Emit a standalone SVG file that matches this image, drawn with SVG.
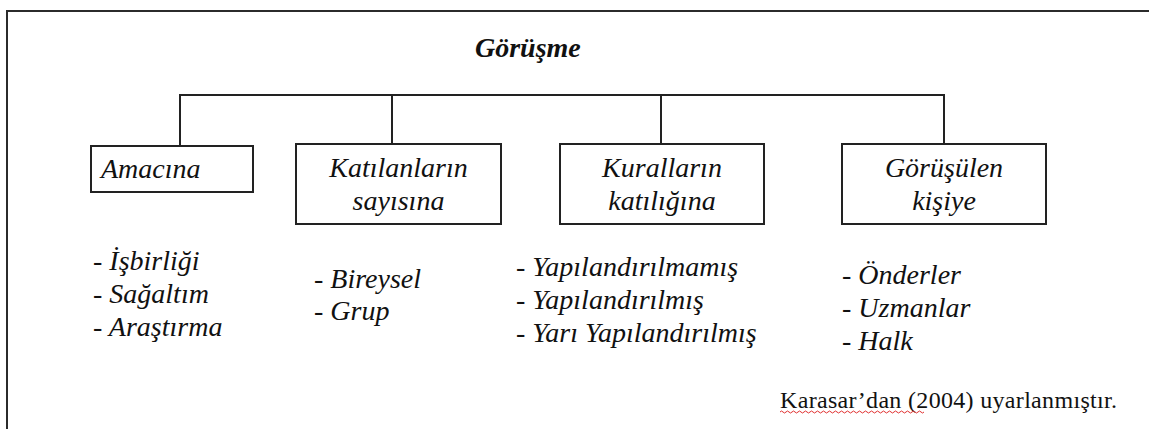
<svg xmlns="http://www.w3.org/2000/svg" width="1149" height="429" viewBox="0 0 1149 429">
<style>
.frame{fill:none;stroke:#2b2b2b;stroke-width:2}
.box{fill:#fff;stroke:#222;stroke-width:2}
.conn{fill:none;stroke:#222;stroke-width:2}
.t{font-family:'Liberation Serif','Times New Roman',serif;font-style:italic;font-size:28px;fill:#111}
.c{text-anchor:middle}
.title{font-weight:bold}
.src{font-family:'Liberation Serif','Times New Roman',serif;font-size:24px;fill:#111}
</style>
<rect width="1149" height="429" fill="#fff"/>
<rect class="frame" x="7" y="11" width="1150" height="430"/>
<g id="title"><text class="t title" x="475" y="57">Görüşme</text></g>
<g id="connectors">
<path class="conn" d="M180,146 V95 H944 V144 M392,95 V144 M661,95 V144"/>
</g>
<g id="amacina">
<rect class="box" x="91" y="146" width="162" height="46"/>
<text class="t" x="101" y="178">Amacına</text>
</g>
<g id="katilanlarin">
<rect class="box" x="296" y="144" width="205" height="80"/>
<text class="t c" x="398.5" y="177">Katılanların</text>
<text class="t c" x="398.5" y="210">sayısına</text>
</g>
<g id="kurallarin">
<rect class="box" x="560" y="144" width="204" height="80"/>
<text class="t c" x="662" y="177">Kuralların</text>
<text class="t c" x="662" y="210">katılığına</text>
</g>
<g id="gorusulen">
<rect class="box" x="842" y="144" width="204" height="80"/>
<text class="t c" x="944" y="177">Görüşülen</text>
<text class="t c" x="944" y="210">kişiye</text>
</g>
<g id="list-amacina">
<text class="t" x="93" y="270">- İşbirliği</text>
<text class="t" x="93" y="303">- Sağaltım</text>
<text class="t" x="93" y="336">- Araştırma</text>
</g>
<g id="list-katilanlarin">
<text class="t" x="314" y="288">- Bireysel</text>
<text class="t" x="314" y="320">- Grup</text>
</g>
<g id="list-kurallarin">
<text class="t" x="516" y="276">- Yapılandırılmamış</text>
<text class="t" x="516" y="309">- Yapılandırılmış</text>
<text class="t" x="516" y="342">- Yarı Yapılandırılmış</text>
</g>
<g id="list-gorusulen">
<text class="t" x="842" y="284">- Önderler</text>
<text class="t" x="842" y="317">- Uzmanlar</text>
<text class="t" x="842" y="350">- Halk</text>
</g>
<g id="source">
<text class="src" x="780" y="408" textLength="337" lengthAdjust="spacing">Karasar’dan (2004) uyarlanmıştır.</text>
<path d="M780,412 q1.5,-2 3,0 t3,0 t3,0 t3,0 t3,0 t3,0 t3,0 t3,0 t3,0 t3,0 t3,0 t3,0 t3,0 t3,0 t3,0 t3,0 t3,0 t3,0 t3,0 t3,0 t3,0 t3,0 t3,0 t3,0 t3,0 t3,0 t3,0 t3,0 t3,0 t3,0 t3,0 t3,0 t3,0 t3,0 t3,0 t3,0 t3,0 t3,0 t3,0 t3,0 t3,0 t3,0 t3,0 t3,0 t3,0 t3,0 t3,0 t3,0" fill="none" stroke="#e03030" stroke-width="1"/>
</g>
</svg>
